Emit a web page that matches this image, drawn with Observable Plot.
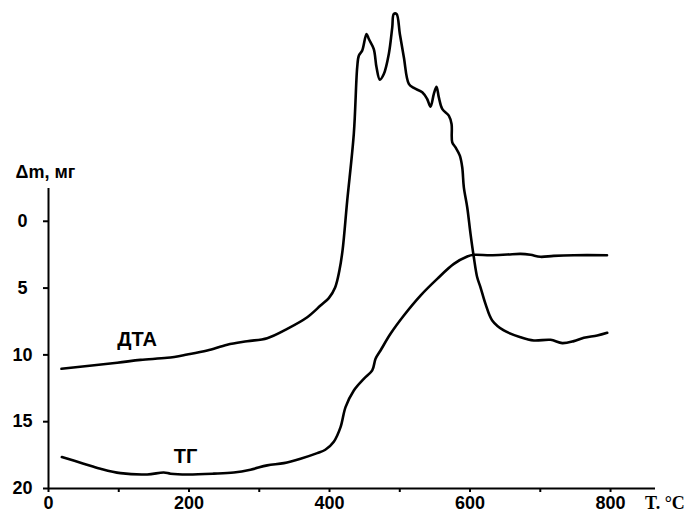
<!DOCTYPE html>
<html>
<head>
<meta charset="utf-8">
<script src="https://cdn.jsdelivr.net/npm/d3@7"></script>
<script src="https://cdn.jsdelivr.net/npm/@observablehq/plot@0.6"></script>
<style>
  html, body { margin: 0; padding: 0; background: #fff; }
  #chart svg { display: block; }
</style>
</head>
<body>
<div id="chart"></div>
<script>
// ДТА curve: temperature (°C) and value (in the chart's Δm scale)
const dtaT = [18.5, 97.8, 131, 169, 197.4, 226, 254.4, 282.8, 311.3, 339.8, 368.3, 387.2, 399, 408, 414, 418.5,
  425.2, 434.6, 439.4, 441.7, 446.5, 452.7, 456, 463, 466.9, 471.6, 477.3, 484.4, 489.3, 491.5, 495.4, 500.1,
  505.8, 512.9, 520, 532, 539, 543.8, 548.5, 552.3, 555.6, 560.4, 569.8, 573.7, 574.7, 579.4, 585.5, 588.9,
  591.2, 596, 600.7, 605.4, 610.2, 614.9, 622, 631.6, 648.1, 672, 690.8, 714.6, 731.3, 747.8, 762, 781.1, 795.3];
const dtaV = [11.04, 10.59, 10.37, 10.22, 9.97, 9.67, 9.24, 8.98, 8.75, 8.05, 7.18, 6.31, 5.75, 4.95, 3.7, 2.2,
  -1.55, -6.56, -11.52, -12.39, -12.77, -14.02, -13.64, -12.89, -11.52, -10.6, -11.02, -12.52, -14.51, -15.51, -15.51, -14.02,
  -12.27, -10.28, -9.98, -9.65, -9.15, -8.58, -9.53, -10.07, -9.27, -8.41, -7.91, -7.28, -5.91, -5.53, -4.91, -4.04,
  -2.54, -1.05, 0.94, 2.69, 4.19, 4.94, 6.18, 7.42, 8.17, 8.68, 8.92, 8.87, 9.12, 8.97, 8.72, 8.55, 8.35];

// ТГ curve: temperature (°C) and mass change Δm (mg)
const tgT = [19, 50, 74, 102.5, 140.5, 164, 173.7, 197.4, 235.3, 263.8, 287.5, 311.3, 335, 358.7, 382.5, 394,
  406.1, 415.7, 422.8, 434.6, 448.8, 460.8, 465.5, 472.6, 486.8, 505.8, 529.5, 553.3, 577, 596, 605, 629, 653,
  672, 686, 700, 719, 748, 795];
const tgV = [17.65, 18.14, 18.52, 18.85, 18.95, 18.80, 18.89, 18.95, 18.89, 18.80, 18.59, 18.27, 18.10, 17.77, 17.35, 17.1,
  16.5, 15.41, 13.91, 12.66, 11.79, 11.16, 10.29, 9.67, 8.42, 7.05, 5.56, 4.31, 3.19, 2.64, 2.51, 2.54, 2.49,
  2.44, 2.51, 2.66, 2.59, 2.54, 2.54];

const yTicks = [0, 5, 10, 15, 20];
const xTicks = [0, 100, 200, 300, 400, 500, 600, 700, 800];
const xLabelTicks = [0, 200, 400, 600, 800];

const yLabel = "Δm, мг";
const xLabel = "T. °C";
const seriesLabels = ["ДТА", "ТГ"];

const dta = dtaT.map((t, i) => ({t, v: dtaV[i]}));
const tg = tgT.map((t, i) => ({t, v: tgV[i]}));

const sans = "'Liberation Sans', Arial, sans-serif";
const serif = "'Liberation Serif', 'Times New Roman', serif";

const chart = Plot.plot({
  width: 699,
  height: 512,
  marginLeft: 48,
  marginRight: 44,
  marginTop: 7,
  marginBottom: 24,
  style: {fontFamily: sans, color: "#000", background: "#fff"},
  x: {domain: [0, 864]},
  y: {domain: [-16, 20], reverse: true},
  marks: [
    Plot.ruleX([0], {y1: -2.45, y2: 20, strokeWidth: 2}),
    Plot.ruleY([20], {x1: 0, x2: 864, strokeWidth: 2}),
    Plot.axisY({ticks: yTicks, tickSize: 5, tickPadding: 21, textAnchor: "middle",
      fontSize: 18, fontWeight: "bold", strokeWidth: 2, label: null}),
    Plot.axisX({ticks: xTicks, tickSize: 4, tickPadding: 4, strokeWidth: 2,
      tickFormat: d => xLabelTicks.includes(d) ? String(d) : "",
      fontSize: 18, fontWeight: "bold", label: null}),
    Plot.line(dta, {x: "t", y: "v", curve: "catmull-rom", stroke: "#000", strokeWidth: 2.6}),
    Plot.line(tg, {x: "t", y: "v", curve: "catmull-rom", stroke: "#000", strokeWidth: 2.6}),
    Plot.text([seriesLabels[0]], {x: 126, y: 8.85, text: d => d, fontSize: 20, fontWeight: "bold", fill: "#000"}),
    Plot.text([seriesLabels[1]], {x: 195, y: 17.6, text: d => d, fontSize: 20, fontWeight: "bold", fill: "#000"}),
    Plot.text([yLabel], {x: 0, y: -3.7, dx: -33, text: d => d, textAnchor: "start", fontSize: 18, fontWeight: "bold", fill: "#000"}),
    Plot.text([xLabel], {x: 849, y: 20, dy: 15, text: d => d, textAnchor: "start", fontSize: 18, fontWeight: "bold", fontFamily: serif, fill: "#000"})
  ]
});
document.getElementById("chart").appendChild(chart);
</script>
</body>
</html>
